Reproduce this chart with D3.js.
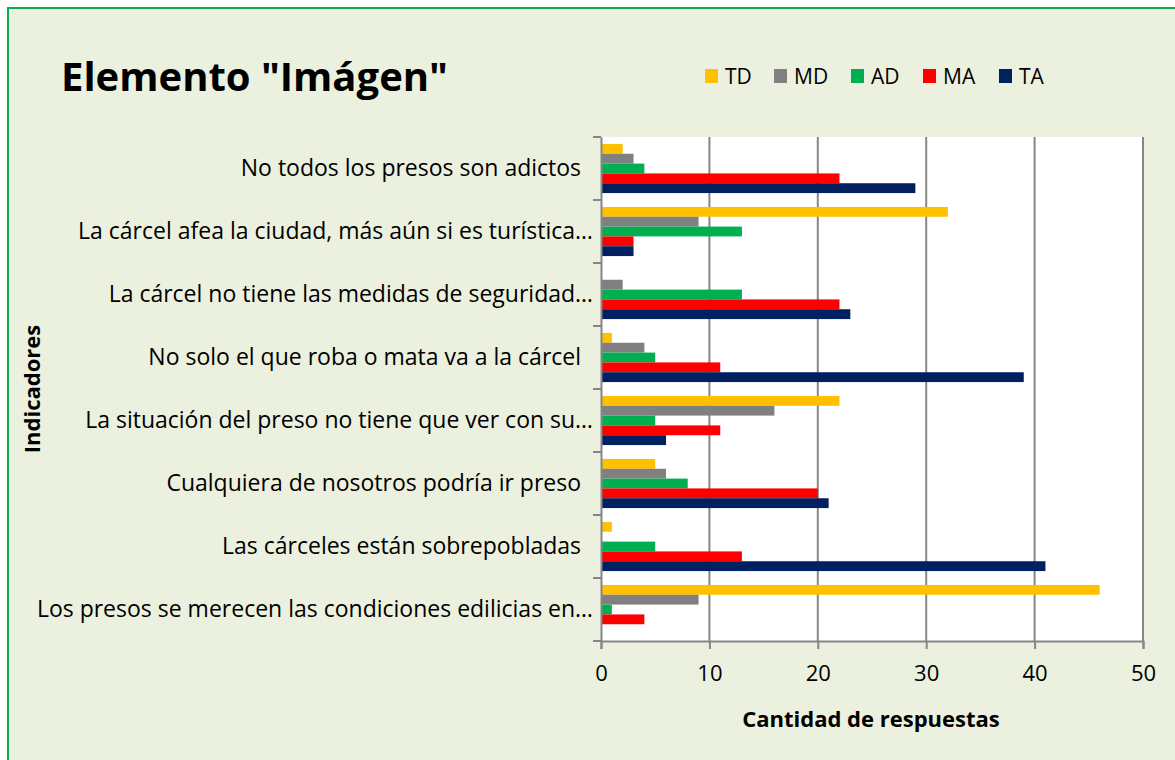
<!DOCTYPE html>
<html>
<head>
<meta charset="utf-8">
<script src="https://cdn.jsdelivr.net/npm/d3@7"></script>
<style>
  body { margin: 0; background: #ffffff; }
  text { font-family: "Open Sans", sans-serif; fill: #000; }
</style>
</head>
<body>
<div id="chart"></div>
<script>
// chart data
var categories = [
  "No todos los presos son adictos ",
  "La cárcel afea la ciudad, más aún si es turística…",
  "La cárcel no tiene las medidas de seguridad…",
  "No solo el que roba o mata va a la cárcel ",
  "La situación del preso no tiene que ver con su…",
  "Cualquiera de nosotros podría ir preso ",
  "Las cárceles están sobrepobladas ",
  "Los presos se merecen las condiciones edilicias en…"
];
var seriesNames = ["TD", "MD", "AD", "MA", "TA"];
var TD = [2, 32, 0, 1, 22, 5, 1, 46];
var MD = [3, 9, 2, 4, 16, 6, 0, 9];
var AD = [4, 13, 13, 5, 5, 8, 5, 1];
var MA = [22, 3, 22, 11, 11, 20, 13, 4];
var TA = [29, 3, 23, 39, 6, 21, 41, 0];
var xTicks = [0, 10, 20, 30, 40, 50];

var seriesValues = {TD: TD, MD: MD, AD: AD, MA: MA, TA: TA};
var colors = {TD: "#ffc000", MD: "#808080", AD: "#00b050", MA: "#ff0000", TA: "#002060"};

var W = 1175, H = 760;
var margin = {top: 137, right: 32, bottom: 119, left: 601},
    width = W - margin.left - margin.right,
    height = H - margin.top - margin.bottom;

var root = d3.select("#chart").append("svg")
  .attr("width", W)
  .attr("height", H);

// chart background and border (right and bottom edges fall outside the view)
root.append("rect")
  .attr("x", 8).attr("y", 8)
  .attr("width", W + 20).attr("height", H + 20)
  .attr("fill", "#ebf1de")
  .attr("stroke", "#00b050")
  .attr("stroke-width", 2);

// title
root.append("text")
  .attr("x", 61).attr("y", 91)
  .style("font-size", "40px")
  .style("font-weight", "bold")
  .text("Elemento \"Imágen\"");

// legend
var legend = root.append("g").selectAll("g")
  .data(seriesNames)
  .enter().append("g")
  .attr("transform", function(d, i) { return "translate(" + [705, 774, 851, 923, 999][i] + ",69)"; });
legend.append("rect")
  .attr("width", 13).attr("height", 14)
  .attr("fill", function(d) { return colors[d]; });
legend.append("text")
  .attr("x", 20).attr("y", 7)
  .attr("dominant-baseline", "central")
  .style("font-size", "21px")
  .text(function(d) { return d; });

var svg = root.append("g")
  .attr("transform", "translate(" + margin.left + "," + margin.top + ")");

// scales
var x = d3.scaleLinear().domain([0, 50]).range([0, width]);
var y = d3.scaleBand()
  .domain(categories)
  .range([0, height])
  .paddingInner(0.22)
  .paddingOuter(0.11);
var ySub = d3.scaleBand()
  .domain(seriesNames)
  .range([0, y.bandwidth()]);

// plot area
svg.append("rect")
  .attr("width", width).attr("height", height)
  .attr("fill", "#ffffff");

// gridlines
svg.append("g")
  .selectAll("line")
  .data(xTicks.slice(1))
  .enter().append("line")
  .attr("x1", function(d) { return x(d); })
  .attr("x2", function(d) { return x(d); })
  .attr("y1", 0).attr("y2", height)
  .attr("stroke", "#868686")
  .attr("stroke-width", 2);

// bars
var groups = svg.append("g").selectAll("g")
  .data(categories)
  .enter().append("g")
  .attr("transform", function(d) { return "translate(0," + y(d) + ")"; });

groups.selectAll("rect")
  .data(function(d, i) {
    return seriesNames.map(function(s) { return {s: s, v: seriesValues[s][i]}; });
  })
  .enter().append("rect")
  .attr("x", 1)
  .attr("y", function(d) { return ySub(d.s); })
  .attr("height", ySub.bandwidth())
  .attr("width", function(d) { return Math.max(0, x(d.v) - 1); })
  .attr("fill", function(d) { return colors[d.s]; });

// x axis
var xAxis = svg.append("g")
  .attr("transform", "translate(0," + height + ")")
  .call(d3.axisBottom(x).tickValues(xTicks).tickSize(8).tickPadding(16));
xAxis.select(".domain").attr("stroke", "#868686").attr("stroke-width", 2);
xAxis.selectAll(".tick line").attr("stroke", "#868686").attr("stroke-width", 2);
xAxis.selectAll(".tick text")
  .style("font-family", "\"Open Sans\", sans-serif")
  .style("font-size", "22px")
  .attr("fill", "#000");

// y axis (trailing spaces kept as in the source labels)
var yAxis = svg.append("g")
  .call(d3.axisLeft(y).tickSize(0).tickPadding(8)
    .tickFormat(function(d) { return d.replace(/ $/, "\u00a0\u00a0"); }));
yAxis.select(".domain").attr("stroke", "#868686").attr("stroke-width", 2);
yAxis.selectAll(".tick text")
  .style("font-family", "\"Open Sans\", sans-serif")
  .style("font-size", "23px")
  .attr("fill", "#000");

// category boundary ticks
svg.append("g")
  .selectAll("line")
  .data(d3.range(categories.length + 1))
  .enter().append("line")
  .attr("x1", -8).attr("x2", 0)
  .attr("y1", function(i) { return i * y.step(); })
  .attr("y2", function(i) { return i * y.step(); })
  .attr("stroke", "#868686")
  .attr("stroke-width", 2);

// axis titles
root.append("text")
  .attr("x", margin.left + width / 2 - 1)
  .attr("y", 718)
  .attr("text-anchor", "middle")
  .attr("dominant-baseline", "central")
  .style("font-size", "22px")
  .style("font-weight", "bold")
  .text("Cantidad de respuestas");

root.append("text")
  .attr("transform", "translate(31," + (margin.top + height / 2) + ")rotate(-90)")
  .attr("text-anchor", "middle")
  .attr("dominant-baseline", "central")
  .style("font-size", "22px")
  .style("font-weight", "bold")
  .text("Indicadores");
</script>
</body>
</html>
